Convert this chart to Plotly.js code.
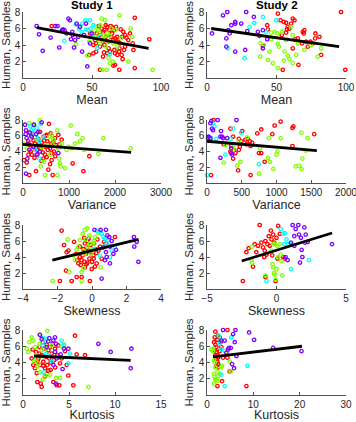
<!DOCTYPE html>
<html><head><meta charset="utf-8">
<script src="https://cdn.plot.ly/plotly-3.0.1.min.js"></script>
<style>html,body{margin:0;padding:0;background:#fff}#chart{width:356px;height:422px}</style>
</head><body><div id="chart"></div>
<script>
// ---------- DATA ([feature value, Human Samples]) ----------
const studyTitles = ["Study 1", "Study 2"];
const featureNames = ["Mean", "Variance", "Skewness", "Kurtosis"];
const yTitle = "Human, Samples";
const groupColors = ["#ff0000", "#80ff00", "#00ffff", "#8000ff"]; // red, green, cyan, purple

// Study 1 - Mean
const s1Mean_red = [[20.8,6.3],[48.6,5.4],[48,2.8],[51,3.0],[52.9,4.2],[53.4,5.4],[54.8,6.3],[55.8,1.0],[57,6.0],[58.2,5.6],[58.7,3.1],[60.1,5.0],[61.1,6.2],[61.8,4.4],[62.6,5.8],[63.6,6.3],[64.5,5.4],[65.5,4.6],[66.2,3.4],[66.7,1.6],[67.4,6.2],[68.2,5.0],[69.6,3.2],[69.8,1.0],[70.3,4.2],[70.8,5.9],[72.7,5.6],[73.2,3.4],[73.9,3.8],[72.2,2.3],[75,4.9],[76.3,4.6],[77.5,5.4],[79.5,4.2],[80,3.4],[81,7.3],[81,1.2],[91.5,4.7],[65.5,1.5],[66.7,3.0],[55.8,3.8],[57.7,4.4],[51,4.0],[52.2,4.6],[68.4,2.8],[71.5,2.8],[59,4.0],[62,3.6],[64,5.0],[56,5.2],[60,6.4],[66,5.8],[70,3.6],[74,5.2],[63,3.2],[58,2.6],[53,3.2],[67,4.8],[61,3.0],[69,4.4],[72,5.0],[54,4.8],[59,5.8],[65,6.1]];
const s1Mean_green = [[40.8,6.3],[38.4,4.1],[46.6,2.7],[52.2,6.2],[54.6,5.8],[57,7.2],[58.2,4.6],[60.1,3.8],[59.4,7.0],[61.1,5.4],[63,5.1],[65.5,4.2],[67.4,5.8],[69.8,7.6],[68.4,3.8],[62,2.4],[65,2.0],[63,1.8],[60.6,1.0],[76.3,2.0],[78,6.0],[79.2,5.0],[94,1.0],[57.5,1.0],[53.4,4.8],[55.8,4.2],[50,5.6],[56,6.4],[61,4.4],[64,6.0],[71,4.8],[58,5.2],[48,4.4],[52,5.0],[55,5.5],[60,4.8]];
const s1Mean_cyan = [[30,4.5],[38.4,6.5],[40.8,6.0],[42.5,5.6],[45.2,7.0],[48.6,7.0],[45.7,5.9],[47.3,5.8],[51,6.4],[50.5,5.0],[55.8,5.0],[63,2.9],[53.9,3.6],[43,6.6],[49,6.0]];
const s1Mean_purple = [[9.9,6.3],[11.6,5.3],[14.3,3.3],[20,4.9],[23.4,6.3],[25,6.3],[26.3,3.7],[28.3,5.8],[29,5.9],[31.6,5.4],[32.9,7.2],[34,7.0],[34.8,4.7],[35.7,5.6],[37,3.7],[37.7,4.6],[38.9,6.6],[40,5.0],[41.3,6.2],[42.8,3.2],[44.2,5.2],[45.7,6.6],[46.6,1.4],[48.6,4.2],[49.8,5.4],[36,5.2],[30,5.8]];
// Study 2 - Mean
const s2Mean_red = [[51,7.8],[52.9,7.0],[55.3,6.8],[56.9,6.7],[58.1,6.2],[59.3,6.0],[60.5,6.6],[61.7,7.2],[62.9,7.0],[56.9,5.5],[53.8,5.2],[43.3,6.4],[43.8,5.9],[40.2,3.9],[54.5,1.0],[61.7,3.6],[63.4,4.7],[65.3,4.8],[65.8,1.6],[68.9,5.6],[69.6,5.4],[68.4,4.2],[71.3,4.4],[72.5,3.8],[74.4,4.4],[76.1,4.2],[77.8,4.8],[78,5.4],[80.9,5.0],[82.1,2.8],[96.4,8.0],[99.5,1.0],[57.5,5.9],[70,5.8]];
const s2Mean_green = [[38.5,4.2],[38.3,2.6],[40.9,4.0],[45,3.2],[43.8,2.2],[47.4,1.8],[51,1.2],[51.7,3.8],[51,4.1],[55.3,2.1],[55.8,3.2],[56.9,4.6],[58.1,2.7],[59.3,2.3],[61.7,1.8],[64.1,2.8],[65.3,4.2],[61.7,5.2],[60.5,6.2],[70,3.4],[74.9,4.0],[79.7,2.6],[82.1,3.6],[53.8,5.6],[50.5,5.4],[46.2,5.5],[48.6,5.6],[46.2,4.7]];
const s2Mean_cyan = [[15,3.6],[27,2.4],[30.6,6.2],[34,6.7],[40.2,7.4],[42.6,5.6],[49.8,7.0]];
const s2Mean_purple = [[3.6,5.4],[11.5,7.6],[14.6,8.0],[13.9,4.8],[15.3,5.8],[16.3,5.4],[17.5,6.4],[13.9,3.8],[20.3,3.2],[20.3,6.6],[20.3,6.8],[24.6,6.6],[28.2,8.0],[29,5.7],[27.5,3.4],[33.7,7.4],[36.6,5.6],[37.8,5.1],[40.2,3.6],[43.3,4.7],[40.2,5.8]];

// Study 1 - Variance
const s1Var_red = [[22,2.9],[80,2.6],[116,5.3],[138,1.0],[167,4.0],[210,6.2],[225,4.6],[261,5.0],[283,1.5],[312,3.6],[333,5.6],[370,6.5],[384,4.4],[406,5.1],[428,3.9],[442,3.1],[478,4.6],[500,6.0],[514,3.3],[529,5.3],[551,1.7],[565,7.5],[588,4.4],[601,6.3],[623,3.8],[645,1.0],[659,5.2],[674,4.0],[696,5.7],[717,4.8],[588,2.4],[514,6.1],[442,5.9],[355,5.0],[152,4.8],[188,3.6],[768,6.1],[790,4.9],[840,5.5],[1080,2.5],[1312,1.5],[1442,3.4],[623,2.9],[250,3.2],[300,4.2],[460,5.4],[540,4.2],[620,5.0],[700,3.4],[180,6.0],[120,3.6],[400,2.8],[140,6.4],[230,5.4],[350,4.6],[480,3.6]];
const s1Var_green = [[22,5.0],[80,4.4],[138,7.6],[210,7.4],[370,8.0],[384,2.1],[478,1.0],[457,2.7],[623,6.1],[659,5.5],[746,6.7],[768,4.4],[790,3.1],[819,2.1],[746,1.0],[804,2.5],[913,1.9],[949,4.2],[986,4.6],[1036,7.3],[1058,4.4],[1130,5.0],[1181,6.2],[1239,5.3],[1297,5.7],[1326,4.2],[1638,3.7],[1746,5.7],[2341,4.4],[572,5.9],[645,4.9],[514,4.8],[588,3.6],[406,4.5],[300,5.6],[850,5.0]];
const s1Var_cyan = [[152,7.2],[188,6.7],[225,6.9],[261,6.4],[297,7.0],[312,5.7],[355,5.3],[384,7.5],[261,4.2],[355,3.1],[442,5.9],[200,6.0]];
const s1Var_purple = [[43,7.4],[65,6.7],[80,5.7],[116,5.0],[138,4.2],[94,3.1],[65,1.2],[188,5.9],[225,4.6],[283,6.2],[333,6.5],[370,4.0],[239,7.4],[406,7.7],[297,3.6],[768,3.8],[60,6.2],[150,6.4]];
// Study 2 - Variance
const s2Var_red = [[58,1.0],[96,8.0],[241,4.9],[347,4.7],[337,4.0],[337,6.9],[376,5.9],[386,4.2],[376,3.1],[448,1.6],[458,4.2],[472,4.6],[496,5.3],[506,6.6],[554,5.5],[569,4.9],[588,5.6],[617,5.3],[627,4.7],[651,5.1],[627,1.0],[723,6.3],[747,3.8],[781,6.8],[781,3.8],[829,2.7],[940,6.2],[973,7.3],[1060,7.8],[1229,7.0],[1243,7.2],[1229,4.7],[1542,6.2],[458,5.6],[410,3.8]];
const s2Var_green = [[265,4.8],[241,2.6],[294,5.7],[434,2.2],[458,5.3],[482,2.7],[578,5.8],[747,1.2],[761,4.4],[877,3.2],[891,5.7],[906,2.7],[954,1.8],[998,3.6],[1012,4.0],[1060,5.7],[1277,2.1],[1325,2.2],[1373,3.1],[1422,4.1],[1446,5.7],[1359,6.4],[1359,1.8],[376,4.2],[386,4.8]];
const s2Var_cyan = [[0,1.0],[58,5.7],[106,7.2],[87,7.6],[135,5.6],[265,3.6],[337,5.6],[376,6.9],[491,6.4],[747,2.4]];
const s2Var_purple = [[24,5.9],[48,5.7],[63,7.9],[72,6.9],[87,6.7],[154,8.0],[193,5.9],[202,6.6],[217,5.9],[231,5.7],[193,3.2],[361,3.6],[424,8.0],[347,3.8],[347,4.4],[289,5.7],[14,5.7],[48,7.6]];

// Study 1 - Skewness
const s1Skew_red = [[-1.76,7.3],[-1.62,5.5],[-1.47,4.6],[-1.37,4.8],[-1.51,2.3],[-1.86,1.0],[-1.18,1.0],[-0.89,1.5],[-1.04,5.9],[-0.93,4.4],[-0.85,3.6],[-0.79,3.2],[-0.7,4.0],[-0.6,1.5],[-0.6,3.6],[-0.5,5.0],[-0.46,6.4],[-0.41,5.7],[-0.35,4.4],[-0.31,3.1],[-0.27,6.0],[-0.21,4.8],[-0.15,3.8],[-0.12,1.0],[-0.08,5.5],[-0.02,2.5],[0.08,4.2],[0.12,5.7],[0.17,2.8],[0.27,3.2],[0.31,6.2],[0.37,4.8],[0.46,5.3],[0.56,3.8],[0.7,5.9],[0.81,5.7],[1.33,6.5],[-0.27,3.3],[-0.41,2.7],[-0.7,5.3],[-0.55,4.2],[-0.1,4.6],[0.2,5.0],[-0.3,5.2],[-0.65,3.0],[0.0,3.4],[-0.2,6.3],[0.1,3.8],[-0.45,3.4],[0.25,4.5]];
const s1Skew_green = [[-2.28,1.0],[-1.41,6.2],[-1.31,2.1],[-1.08,4.2],[-0.99,3.6],[-0.89,4.9],[-0.79,5.3],[-0.7,6.1],[-0.6,2.1],[-0.5,2.6],[-0.54,6.9],[-0.41,7.4],[-0.27,7.6],[-0.15,6.7],[-0.12,5.7],[-0.08,4.4],[0.04,5.0],[0.08,5.7],[0.17,6.5],[0.37,7.0],[0.5,2.7],[-0.6,1.0],[-0.41,4.4],[-0.5,4.8],[-0.27,5.3],[-0.35,6.2],[0.1,6.0]];
const s1Skew_cyan = [[0.27,7.3],[0.43,7.2],[0.56,6.9],[0.66,6.5],[0.75,6.3],[0.85,5.7],[0.95,6.1],[0.7,5.3],[0.46,4.2],[1.04,4.0],[1.14,4.8],[1.33,5.2],[0.12,5.0]];
const s1Skew_purple = [[0.14,7.4],[0.5,7.4],[0.81,7.4],[0.89,6.7],[1.0,6.5],[1.14,6.0],[1.04,5.3],[0.81,4.6],[0.85,4.0],[0.75,3.6],[1.04,3.2],[1.24,4.4],[1.39,4.9],[2.43,6.5],[2.59,5.9],[2.45,5.3],[2.69,3.4],[0.56,1.3],[0.66,5.2]];
// Study 2 - Skewness
const s2Skew_red = [[-1.21,8.0],[-2.42,1.0],[-2.17,4.6],[-2.0,5.1],[-1.69,2.8],[-1.57,5.6],[-1.45,4.6],[-1.33,5.4],[-1.09,5.8],[-0.97,5.2],[-0.85,4.8],[-0.8,6.0],[-0.72,4.3],[-0.65,5.6],[-0.56,6.6],[-0.48,5.4],[-0.41,7.3],[-0.36,6.2],[-0.31,4.2],[-0.24,6.8],[-0.17,5.8],[-0.07,1.0],[0,6.4],[0.12,7.9],[0.24,6.9],[0.48,4.0],[0.56,3.8],[0.07,3.8],[-0.89,4.0],[-0.8,1.5]];
const s2Skew_green = [[-1.76,5.3],[-1.81,3.6],[-1.76,3.3],[-0.8,1.7],[-0.36,4.8],[-0.29,3.1],[-0.24,2.7],[-0.17,2.0],[-0.12,1.8],[-0.07,1.2],[0,2.5],[0.12,4.0],[0.24,5.6],[0.31,4.3],[0.36,3.5],[0.41,1.7],[-0.12,5.6],[-0.24,5.6],[0.07,5.4]];
const s2Skew_cyan = [[-0.72,1.0],[0.31,7.5],[0.48,6.9],[0.6,7.0],[0.72,6.2],[0.56,5.6],[0.8,5.6],[1.04,2.5],[2.34,3.6],[1.04,5.6]];
const s2Skew_purple = [[0.65,4.0],[0.8,3.6],[1.04,5.8],[1.16,8.0],[1.28,6.6],[1.38,7.5],[1.57,8.0],[1.62,6.8],[1.76,6.4],[1.81,4.9],[1.86,4.0],[2.0,7.7],[2.05,5.8],[2.1,6.8],[1.69,3.3],[2.25,5.9],[3.99,5.6],[1.28,5.4]];

// Study 1 - Kurtosis
const s1Kurt_red = [[0.94,4.5],[1.05,5.6],[1.12,3.7],[1.3,3.3],[1.41,5.3],[1.49,2.7],[1.56,1.6],[1.67,4.5],[1.78,5.9],[1.85,3.7],[1.92,1.4],[2.03,1.0],[2.03,4.9],[2.14,6.5],[2.21,4.1],[2.28,5.7],[2.39,3.3],[2.5,4.7],[2.57,6.2],[2.64,3.7],[2.75,5.5],[2.86,4.5],[2.93,5.9],[3.0,3.1],[3.12,5.1],[3.22,6.3],[3.3,1.6],[3.37,4.3],[3.48,5.7],[3.66,1.2],[3.73,4.9],[3.84,6.1],[3.95,1.2],[4.02,3.9],[4.2,4.5],[4.57,5.4],[4.75,3.7],[4.93,2.4],[5.47,1.2],[5.65,7.3],[5.83,5.0],[6.74,4.9],[2.75,3.0],[2.39,2.3],[1.78,5.1],[1.6,4.2],[2.2,3.6],[3.0,4.0],[3.5,3.4],[2.6,2.6],[1.4,3.9]];
const s1Kurt_green = [[0.4,5.7],[0.58,5.3],[0.69,6.5],[0.94,7.1],[1.12,6.7],[1.3,5.9],[1.41,4.9],[1.49,4.5],[1.67,3.9],[1.85,2.8],[2.14,1.9],[2.39,2.4],[2.64,7.9],[2.57,5.7],[2.93,2.5],[3.12,6.1],[3.59,2.1],[4.02,2.1],[4.2,6.0],[4.46,6.2],[7.1,1.0],[1.78,7.4],[1.2,4.1],[2.03,5.5],[1.56,3.5],[1.78,6.3]];
const s1Kurt_cyan = [[2.21,7.0],[2.39,6.7],[2.57,6.9],[2.14,6.1],[2.5,5.1],[2.93,4.9],[3.12,4.1],[4.2,6.7],[4.46,6.1],[4.93,3.9],[5.11,5.1],[2.28,2.8]];
const s1Kurt_purple = [[1.85,7.4],[2.03,6.9],[2.75,6.6],[2.86,7.0],[3.3,6.7],[3.48,7.1],[3.59,6.3],[3.48,5.3],[3.66,4.5],[3.3,3.7],[3.59,1.4],[4.09,5.0],[4.3,3.2],[4.46,5.7],[4.93,5.7],[8.19,6.3],[9.53,5.3],[11.78,5.7],[11.71,3.3],[2.57,5.9]];
// Study 2 - Kurtosis
const s2Kurt_red = [[1.8,7.8],[1.66,7.1],[1.51,6.5],[1.8,6.2],[2.02,5.9],[2.24,6.8],[2.38,7.3],[1.66,5.5],[2.02,5.3],[2.24,4.9],[2.38,4.6],[2.02,4.4],[2.24,4.1],[2.38,3.8],[2.02,3.6],[2.38,3.4],[2.24,1.1],[3.1,5.9],[2.74,5.4],[2.96,6.5],[4.4,8.0],[4.4,4.6],[4.9,2.9],[3.25,1.7],[8.5,1.1],[3.46,4.6],[2.74,7.1],[1.8,4.9]];
const s2Kurt_green = [[0.94,5.6],[1.3,5.4],[1.51,4.3],[1.66,4.0],[1.8,3.4],[1.51,2.6],[1.66,2.2],[1.8,1.9],[2.02,2.0],[1.51,1.4],[2.24,2.8],[2.38,2.3],[2.74,2.6],[3.1,3.4],[3.25,3.6],[3.82,5.4],[4.9,4.1],[5.12,2.9],[2.24,1.7],[1.3,5.7]];
const s2Kurt_cyan = [[2.52,7.3],[2.74,6.3],[3.1,5.6],[3.1,2.5],[3.82,1.1],[5.26,7.1],[8.73,3.6],[2.96,6.8]];
const s2Kurt_purple = [[3.46,8.0],[3.1,6.7],[3.82,6.7],[4.18,5.2],[4.54,5.6],[4.69,5.8],[5.12,5.8],[5.41,3.8],[5.63,7.5],[5.99,6.5],[6.14,8.0],[5.84,3.3],[6.35,4.8],[9.09,7.7],[10.17,6.8],[14.28,5.8],[20.4,5.4]];

// Regression (fit) lines: [x, y] endpoints
const s1Mean_fit = [[10,6.1],[91,3.6]];
const s2Mean_fit = [[3,6.0],[95,3.8]];
const s1Var_fit = [[0,4.9],[2350,3.9]];
const s2Var_fit = [[0,5.3],[1580,4.1]];
const s1Skew_fit = [[-2.3,3.6],[2.7,6.2]];
const s2Skew_fit = [[-2.5,3.5],[4.0,7.0]];
const s1Kurt_fit = [[1.2,4.8],[11.7,4.25]];
const s2Kurt_fit = [[1.3,4.7],[20.5,6.0]];

// Axis ranges / ticks
const xRanges = [[0,100],[0,100],[0,3000],[0,2000],[-4,4],[-5,5],[0,15],[0,30]];
const xTicks = [[0,50,100],[0,50,100],[0,1000,2000,3000],[0,500,1000,1500,2000],[-4,-2,0,2,4],[-5,0,5],[0,5,10,15],[0,10,20,30]];
const yRange = [0,8];
const yTicks = [2,4,6,8];

// ---------- BUILD ----------
const panels = [
  [s1Mean_red,s1Mean_green,s1Mean_cyan,s1Mean_purple,s1Mean_fit],
  [s2Mean_red,s2Mean_green,s2Mean_cyan,s2Mean_purple,s2Mean_fit],
  [s1Var_red,s1Var_green,s1Var_cyan,s1Var_purple,s1Var_fit],
  [s2Var_red,s2Var_green,s2Var_cyan,s2Var_purple,s2Var_fit],
  [s1Skew_red,s1Skew_green,s1Skew_cyan,s1Skew_purple,s1Skew_fit],
  [s2Skew_red,s2Skew_green,s2Skew_cyan,s2Skew_purple,s2Skew_fit],
  [s1Kurt_red,s1Kurt_green,s1Kurt_cyan,s1Kurt_purple,s1Kurt_fit],
  [s2Kurt_red,s2Kurt_green,s2Kurt_cyan,s2Kurt_purple,s2Kurt_fit]
];
const W = 356, H = 422;
const colPx = [[23,161],[207,346]];
const rowPx = [[12,78],[120,183],[225,289],[330,395]];
const font = "Liberation Sans, Arial, Helvetica, sans-serif";
const axColor = "#262626";

const traces = [];
const layout = {
  width: W, height: H, margin: {l:0,r:0,t:0,b:0},
  paper_bgcolor: "#fff", plot_bgcolor: "#fff", showlegend: false,
  font: {family: font, color: axColor},
  annotations: []
};
panels.forEach((p, i) => {
  const n = i + 1;
  const xa = n === 1 ? "x" : "x" + n, ya = n === 1 ? "y" : "y" + n;
  const col = i % 2, row = Math.floor(i / 2);
  for (let g = 0; g < 4; g++) {
    traces.push({
      type: "scatter", mode: "markers", xaxis: xa, yaxis: ya,
      x: p[g].map(d => d[0]), y: p[g].map(d => d[1]),
      marker: {symbol: "circle-open", size: 3.4, color: groupColors[g], line: {width: 1.3, color: groupColors[g]}},
      cliponaxis: false, hoverinfo: "skip"
    });
  }
  traces.push({
    type: "scatter", mode: "lines", xaxis: xa, yaxis: ya,
    x: p[4].map(d => d[0]), y: p[4].map(d => d[1]),
    line: {color: "#000", width: 2.8}, hoverinfo: "skip"
  });
  const xKey = n === 1 ? "xaxis" : "xaxis" + n, yKey = n === 1 ? "yaxis" : "yaxis" + n;
  layout[xKey] = {
    domain: [colPx[col][0] / W, colPx[col][1] / W], anchor: ya,
    range: xRanges[i], tickvals: xTicks[i], ticks: "inside", ticklen: 3, tickwidth: 0.8,
    tickcolor: axColor, showline: true, linecolor: axColor, linewidth: 0.8,
    showgrid: false, zeroline: false, tickfont: {size: 10, color: axColor},
    ticklabeloverflow: "allow",
    title: {text: featureNames[row], font: {size: 12.5, color: axColor}, standoff: 1},
    automargin: false, fixedrange: true
  };
  layout[yKey] = {
    domain: [1 - rowPx[row][1] / H, 1 - rowPx[row][0] / H], anchor: xa,
    range: yRange, tickvals: yTicks, ticks: "inside", ticklen: 3, tickwidth: 0.8,
    tickcolor: axColor, showline: true, linecolor: axColor, linewidth: 0.8,
    showgrid: false, zeroline: false, tickfont: {size: 10, color: axColor},
    ticklabeloverflow: "allow",
    title: {text: yTitle, font: {size: 11.5, color: axColor}, standoff: 2},
    automargin: false, fixedrange: true
  };
});
studyTitles.forEach((t, c) => {
  layout.annotations.push({
    text: "<b>" + t + "</b>", xref: "paper", yref: "paper",
    x: (colPx[c][0] + colPx[c][1]) / 2 / W, y: 1 - 5 / H,
    xanchor: "center", yanchor: "middle", showarrow: false,
    font: {size: 11.5, color: "#000", family: font}
  });
});
Plotly.newPlot("chart", traces, layout, {staticPlot: true, displayModeBar: false});
</script></body></html>
